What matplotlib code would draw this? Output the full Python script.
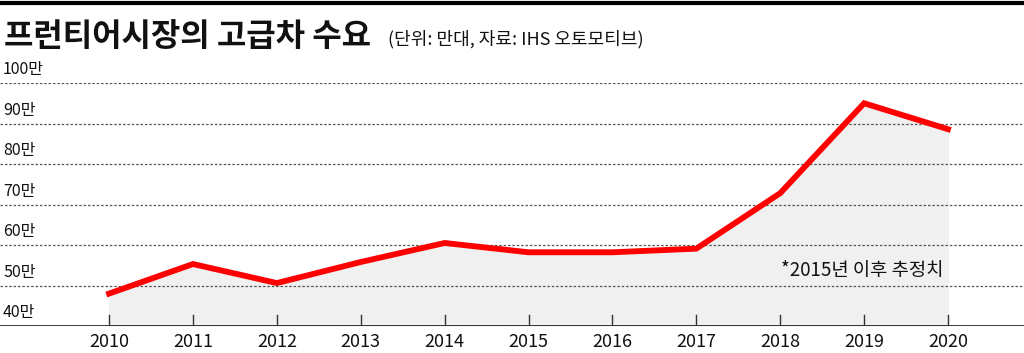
import matplotlib
matplotlib.use("Agg")
from matplotlib import pyplot as plt
from matplotlib.lines import Line2D
import matplotlib.transforms as mtransforms

plt.rcParams['font.family'] = ['Noto Sans CJK KR', 'DejaVu Sans']

years = [2010, 2011, 2012, 2013, 2014, 2015, 2016, 2017, 2018, 2019, 2020]
demand = [48, 55.3, 50.6, 55.8, 60.5, 58.2, 58.2, 59.1, 72.8, 95.0, 88.6]   # 만대
y_ticks = [40, 50, 60, 70, 80, 90, 100]
y_labels = ["40만", "50만", "60만", "70만", "80만", "90만", "100만"]

fig = plt.figure(figsize=(10.24, 3.53), dpi=100)
ax = fig.add_axes([0, 1 - 326 / 353, 1, (326 - 83) / 353])

ax.fill_between(years, demand, 40, color="#f0f0f0", zorder=1)
ax.plot(years, demand, color="#ff0000", lw=4.2, solid_joinstyle="miter", zorder=3)

# dashed grid + labels above each line
trans = mtransforms.blended_transform_factory(ax.transAxes, ax.transData)
for v, lab in zip(y_ticks, y_labels):
    if v > 40:
        ax.axhline(v, color="#555555", lw=0.9, ls=(0, (2, 1.5)), zorder=2)
    ax.text(0.003, v + 1.2, lab, transform=trans, fontsize=11.5, va="bottom",
            ha="left", color="#111111")

ax.axhline(40, color="black", lw=1.8, zorder=4)
for yr in years:
    ax.plot([yr, yr], [40, 42.6], color="#333333", lw=1, zorder=4)
    ax.text(yr, 36.1, str(yr), fontsize=13, ha="center", va="center", color="#111111",
            clip_on=False)

ax.text(2019.95, 53.6, "*2015년 이후 추정치", fontsize=13.5, ha="right", va="center",
        color="#111111", zorder=5)

ax.set_xlim(2008.70, 2020.906)
ax.set_ylim(40, 100)
ax.axis("off")

fig.add_artist(Line2D([0, 1], [1 - 3 / 353, 1 - 3 / 353], color="black", lw=3,
                      transform=fig.transFigure))
fig.text(4 / 1024, 1 - 37 / 353, "프런티어시장의 고급차 수요", fontsize=23,
         fontweight="heavy", va="center", ha="left", color="#111111")
fig.text(388 / 1024, 1 - 39 / 353, "(단위: 만대, 자료: IHS 오토모티브)", fontsize=13,
         va="center", ha="left", color="#111111")

fig.savefig("out.png", dpi=100)
